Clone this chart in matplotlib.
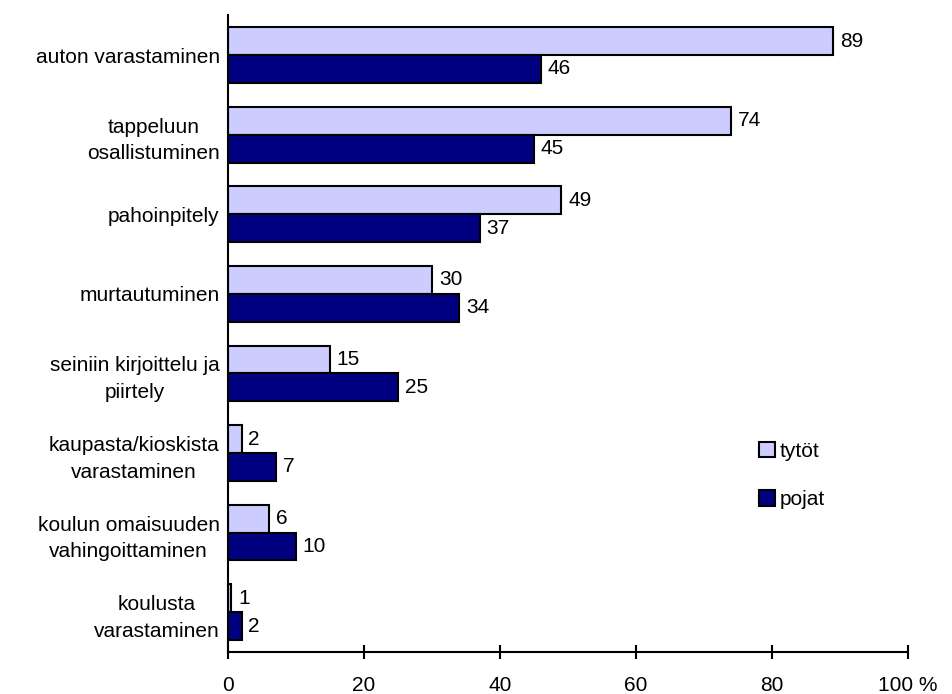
import matplotlib.pyplot as plt
import numpy as np

plt.rcParams['font.family'] = ['Liberation Sans', 'DejaVu Sans']

categories = [
    "auton varastaminen",
    "tappeluun\nosallistuminen",
    "pahoinpitely",
    "murtautuminen",
    "seiniin kirjoittelu ja\npiirtely",
    "kaupasta/kioskista\nvarastaminen",
    "koulun omaisuuden\nvahingoittaminen",
    "koulusta\nvarastaminen",
]
tytot = [89, 74, 49, 30, 15, 2, 6, 0.5]
tytot_labels = ["89", "74", "49", "30", "15", "2", "6", "1"]
pojat = [46, 45, 37, 34, 25, 7, 10, 2]
ticks = [0, 20, 40, 60, 80, 100]
tick_labels = ["0", "20", "40", "60", "80", "100 %"]

fs = 15

fig = plt.figure(figsize=(9.52, 6.94), dpi=100)
ax = fig.add_axes([0.2395, 0.0605, 0.7143, 0.9175])

y = np.arange(len(categories))
h = 0.35
ax.barh(y - h / 2, tytot, height=h, color='#ccccff', edgecolor='black', linewidth=1.5, label='tytöt')
ax.barh(y + h / 2, pojat, height=h, color='#000080', edgecolor='black', linewidth=1.5, label='pojat')

for yi, v, s in zip(y, tytot, tytot_labels):
    ax.text(v + 1.0, yi - h / 2, s, va='center', ha='left', fontsize=fs)
for yi, v in zip(y, pojat):
    ax.text(v + 1.0, yi + h / 2, str(v), va='center', ha='left', fontsize=fs)

ax.set_ylim(len(categories) - 0.5, -0.5)
ax.set_xlim(0, 100)
ax.set_yticks(y)
ax.set_yticklabels(categories, fontsize=fs, multialignment='center', linespacing=1.5)
ax.tick_params(axis='y', length=0, pad=6)
ax.set_xticks(ticks)
ax.set_xticklabels(tick_labels, fontsize=fs)
ax.tick_params(axis='x', direction='inout', length=10, width=1.5, pad=12)
for side in ['top', 'right']:
    ax.spines[side].set_visible(False)
for side in ['left', 'bottom']:
    ax.spines[side].set_linewidth(1.5)

ax.legend(loc='center left', bbox_to_anchor=(0.781, 0.277), frameon=False, fontsize=fs,
          borderpad=0, borderaxespad=0, handlelength=0.75, handleheight=0.75,
          handletextpad=0.25, labelspacing=1.4)

fig.savefig('out.png', dpi=100)
